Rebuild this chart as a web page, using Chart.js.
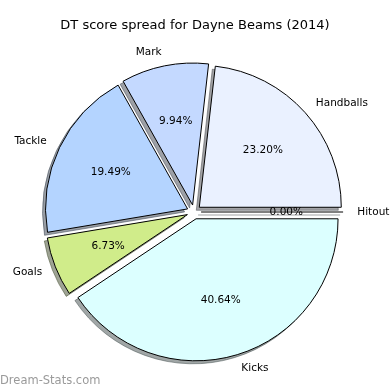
<!DOCTYPE html>
<html>
<head>
<meta charset="utf-8">
<script src="https://cdn.jsdelivr.net/npm/chart.js@4/dist/chart.umd.min.js"></script>
<style>
  html, body { margin: 0; padding: 0; background: #fff; }
  #wrap { width: 390px; height: 390px; }
</style>
</head>
<body>
<div id="wrap"><canvas id="pieChart" width="390" height="390"></canvas></div>
<script>
// slices listed clockwise from 3 o'clock (matplotlib draws counter-clockwise)
const categories = ['Hitout', 'Kicks', 'Goals', 'Tackle', 'Mark', 'Handballs'];
const shares = [0.00, 40.64, 6.73, 19.49, 9.94, 23.20];
const sliceColors = ['#e8f0ff', '#dcffff', '#d0ec8a', '#b4d4ff', '#c4d9ff', '#eaf1ff'];

const EXPLODE = 0.05;
const FONT = '"DejaVu Sans", sans-serif';

function hexToRgb(hex) {
    const n = parseInt(hex.slice(1), 16);
    return [(n >> 16) & 255, (n >> 8) & 255, n & 255];
}

// darker half-transparent copy of each wedge, like matplotlib's Shadow patch
function shadowOf(hex) {
    const c = hexToRgb(hex).map(v => Math.round(v * 0.3));
    return 'rgba(' + c.join(',') + ',0.5)';
}

const pieExtras = {
    id: 'pieExtras',
    beforeDatasetDraw(chart, args) {
        const ctx = chart.ctx;
        const arcs = args.meta.data;
        // shadows first, under every wedge
        arcs.forEach((el, i) => {
            const mid = (el.startAngle + el.endAngle) / 2;
            const d = EXPLODE * el.outerRadius;
            const dx = Math.cos(mid) * d - 3, dy = Math.sin(mid) * d + 3;
            ctx.save();
            ctx.translate(dx, dy);
            if (el.circumference > 0) {
                const o = el.options;
                el.options = Object.assign({}, o, {
                    backgroundColor: shadowOf(sliceColors[i]),
                    borderColor: shadowOf(sliceColors[i]),
                    borderWidth: 1
                });
                Object.getPrototypeOf(el).draw.call(el, ctx);
                el.options = o;
            } else {
                ctx.strokeStyle = shadowOf(sliceColors[i]);
                ctx.lineWidth = 1;
                ctx.beginPath();
                ctx.moveTo(el.x, el.y);
                ctx.lineTo(el.x + Math.cos(mid) * el.outerRadius, el.y + Math.sin(mid) * el.outerRadius);
                ctx.stroke();
            }
            ctx.restore();
            // exploded wedge: shift along its middle angle
            if (!el._exploded) {
                el._exploded = true;
                el.draw = function (c) {
                    const m = (this.startAngle + this.endAngle) / 2;
                    const off = EXPLODE * this.outerRadius;
                    c.save();
                    c.translate(Math.cos(m) * off, Math.sin(m) * off);
                    if (this.circumference > 0) {
                        Object.getPrototypeOf(this).draw.call(this, c);
                    } else {
                        c.strokeStyle = '#000';
                        c.lineWidth = 1;
                        c.beginPath();
                        c.moveTo(this.x, this.y);
                        c.lineTo(this.x + Math.cos(m) * this.outerRadius, this.y + Math.sin(m) * this.outerRadius);
                        c.stroke();
                    }
                    c.restore();
                };
            }
        });
    },
    afterDatasetsDraw(chart) {
        const ctx = chart.ctx;
        const arcs = chart.getDatasetMeta(0).data;
        const total = shares.reduce((a, b) => a + b, 0);
        ctx.save();
        ctx.fillStyle = '#000';
        ctx.textBaseline = 'middle';
        ctx.font = '10.5px ' + FONT;
        arcs.forEach((el, i) => {
            const mid = (el.startAngle + el.endAngle) / 2;
            const r = el.outerRadius;
            const cx = el.x + Math.cos(mid) * EXPLODE * r;
            const cy = el.y + Math.sin(mid) * EXPLODE * r;
            const lx = cx + Math.cos(mid) * 1.1 * r;
            const ly = cy + Math.sin(mid) * 1.1 * r;
            ctx.textAlign = Math.cos(mid) > 0 ? 'left' : 'right';
            ctx.fillText(categories[i], lx, ly);
            ctx.textAlign = 'center';
            const pct = (shares[i] / total * 100).toFixed(2) + '%';
            ctx.fillText(pct, cx + Math.cos(mid) * 0.6 * r, cy + Math.sin(mid) * 0.6 * r);
        });
        // title
        ctx.textAlign = 'center';
        ctx.font = '13px ' + FONT;
        ctx.fillText('DT score spread for Dayne Beams (2014)', 195, 26);
        // watermark
        ctx.textAlign = 'left';
        ctx.textBaseline = 'alphabetic';
        ctx.fillStyle = '#9a9a9a';
        ctx.font = '11.5px ' + FONT;
        ctx.fillText('Dream-Stats.com', 0, 384);
        ctx.restore();
    }
};

document.addEventListener('DOMContentLoaded', function () {
    const ctx = document.getElementById('pieChart').getContext('2d');
    new Chart(ctx, {
        type: 'pie',
        data: {
            labels: categories,
            datasets: [{
                data: shares,
                backgroundColor: sliceColors,
                borderColor: '#000',
                borderWidth: 1,
                borderJoinStyle: 'miter'
            }]
        },
        options: {
            responsive: false,
            animation: false,
            rotation: 90,
            radius: 142,
            layout: { padding: { left: 0, right: 2, top: 34, bottom: 0 } },
            plugins: {
                legend: { display: false },
                title: { display: false },
                tooltip: { enabled: false }
            }
        },
        plugins: [pieExtras]
    });
});
</script>
</body>
</html>
